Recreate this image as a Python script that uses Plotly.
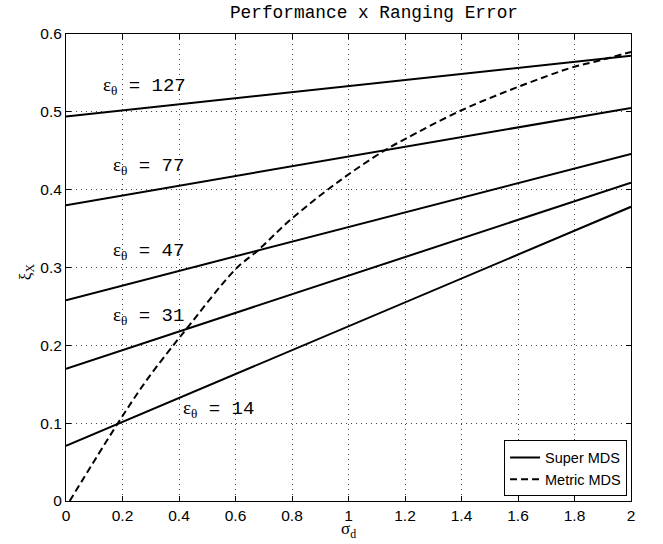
import plotly.graph_objects as go

# Super MDS lines (linear): value at sigma_d = 0 and 2
sigma_ends = [0.0, 2.0]
eps_labels = ["127", "77", "47", "31", "14"]
super_start = [0.494, 0.380, 0.258, 0.170, 0.071]
super_end = [0.572, 0.505, 0.446, 0.409, 0.378]

# Metric MDS curve
metric_x = [0.013, 0.182, 0.283, 0.384, 0.424, 0.598, 0.679, 0.800, 0.967,
            1.126, 1.2, 1.4, 1.6, 1.8, 1.868, 2.0]
metric_y = [0.0, 0.099, 0.154, 0.202, 0.220, 0.297, 0.322, 0.363, 0.411,
            0.450, 0.465, 0.502, 0.532, 0.558, 0.564, 0.577]

# label positions (data coords)
label_x = [0.124, 0.159, 0.159, 0.159, 0.407]
label_y = [0.533, 0.430, 0.321, 0.238, 0.118]

xticks = [0, 0.2, 0.4, 0.6, 0.8, 1, 1.2, 1.4, 1.6, 1.8, 2]
yticks = [0, 0.1, 0.2, 0.3, 0.4, 0.5, 0.6]

fig = go.Figure()
for i, (a, b) in enumerate(zip(super_start, super_end)):
    fig.add_trace(go.Scatter(
        x=sigma_ends, y=[a, b], mode="lines",
        line=dict(color="black", width=2),
        name="Super MDS", showlegend=(i == 0), hoverinfo="skip"))
fig.add_trace(go.Scatter(
    x=metric_x, y=metric_y, mode="lines", line_shape="spline",
    line=dict(color="black", width=2, dash="7px,4px"),
    name="Metric MDS"))

mono = "Liberation Mono, Courier New, monospace"
serif = "Liberation Serif, DejaVu Serif, serif"
sans = "Liberation Sans, Arial, sans-serif"

for lab, lx, ly in zip(eps_labels, label_x, label_y):
    fig.add_annotation(
        x=lx, y=ly, xref="x", yref="y", xanchor="left", yanchor="middle",
        text=f"<span style='font-family:{serif}'>ε<sub>θ</sub></span> = {lab}",
        showarrow=False, font=dict(family=mono, size=19, color="black"))

fig.add_annotation(x=0.5, y=-0.062, xref="paper", yref="paper",
                   text="σ<sub>d</sub>", showarrow=False,
                   xanchor="center", yanchor="middle",
                   font=dict(family=serif, size=17, color="black"))
fig.add_annotation(x=-0.069, y=0.49, xref="paper", yref="paper",
                   text="ξ<sub>X</sub>", showarrow=False, textangle=-90,
                   xanchor="center", yanchor="middle",
                   font=dict(family=serif, size=17, color="black"))

axis_common = dict(
    showline=True, linecolor="black", linewidth=1, mirror="ticks",
    ticks="inside", ticklen=5, tickcolor="black", tickwidth=1,
    showgrid=True, gridcolor="#444444", gridwidth=1, griddash="1px,4px",
    zeroline=False, tickfont=dict(family=sans, size=15.5, color="black"),
    automargin=False,
)
fig.update_xaxes(range=[0, 2], tickvals=xticks,
                 ticktext=[f"{v:g}" for v in xticks], **axis_common)
fig.update_yaxes(range=[0, 0.6], tickvals=yticks,
                 ticktext=[f"{v:g}" for v in yticks], **axis_common)

fig.update_layout(
    width=663, height=544,
    margin=dict(l=66, r=32, t=34, b=43),
    paper_bgcolor="white", plot_bgcolor="white",
    title=dict(text="Performance x Ranging Error", x=374 / 663,
               xref="container", xanchor="center",
               y=1 - 12 / 544, yanchor="middle", yref="container",
               font=dict(family=mono, size=17.8, color="black")),
    legend=dict(x=0.993, y=0.0696, xanchor="right", yanchor="middle",
                bgcolor="white", bordercolor="black", borderwidth=1,
                font=dict(family=sans, size=14.5, color="black"),
                tracegroupgap=0, itemwidth=30),
    showlegend=True,
)

fig.write_html("out.html",
               config={"displayModeBar": False},
               post_script="document.body.style.margin='0';")
